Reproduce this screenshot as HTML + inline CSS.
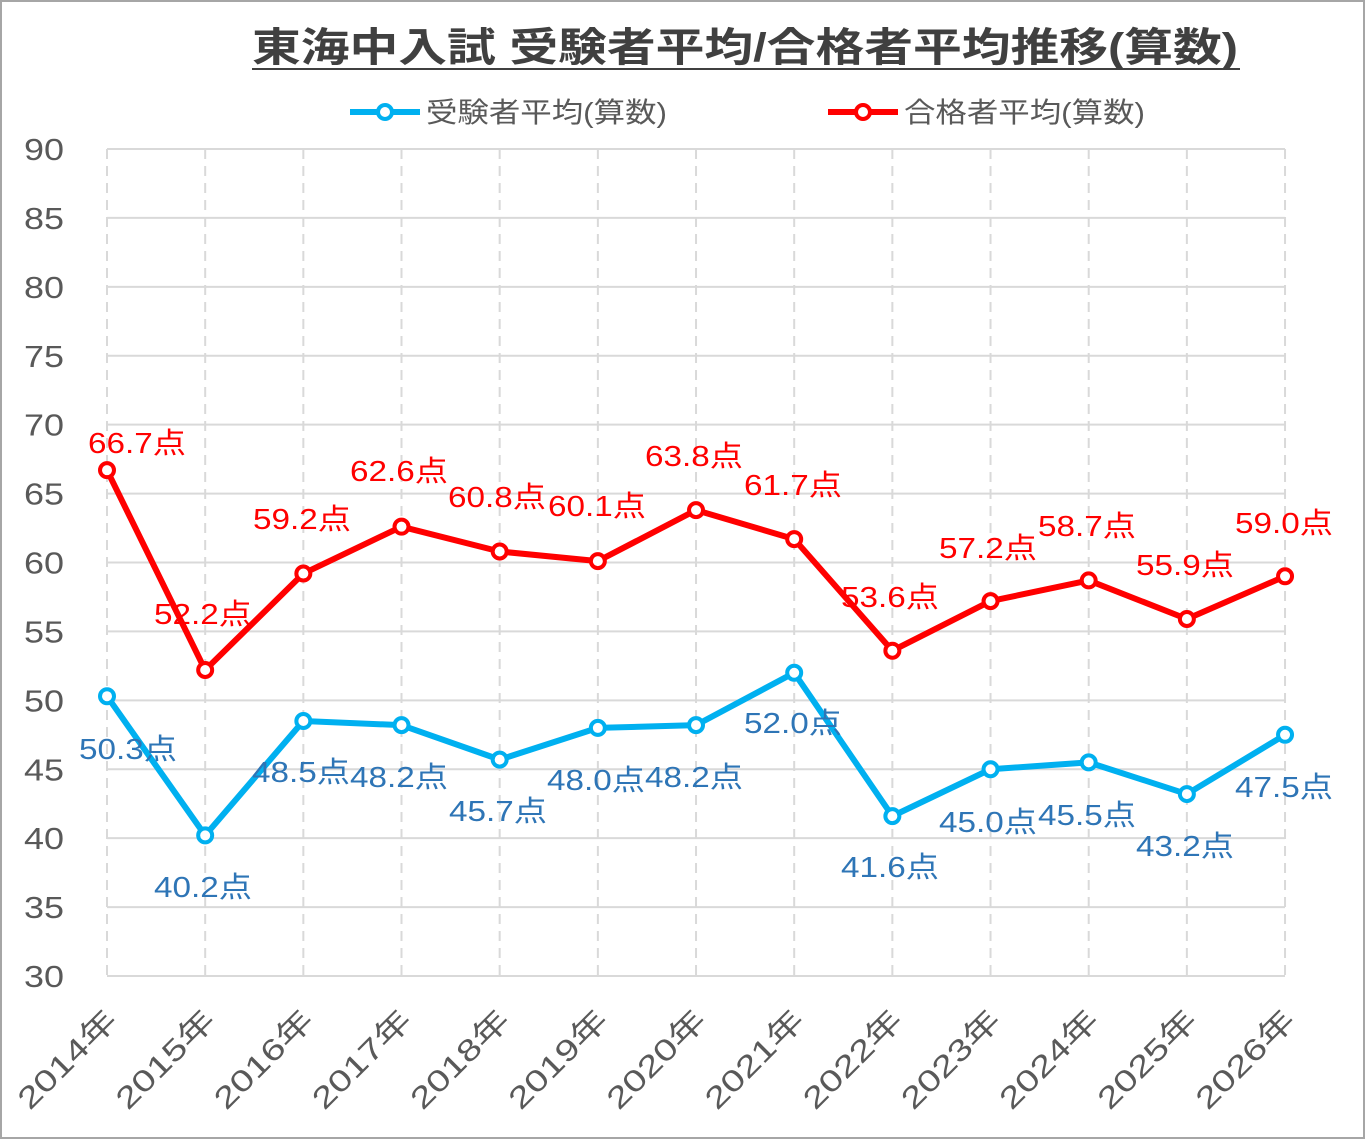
<!DOCTYPE html>
<html><head><meta charset="utf-8"><style>
html,body{margin:0;padding:0;background:#fff}
svg{display:block;font-family:"Liberation Sans","Noto Sans CJK JP",sans-serif}
</style></head><body>
<svg width="1365" height="1139" viewBox="0 0 1365 1139" xmlns="http://www.w3.org/2000/svg">
<rect x="1" y="1" width="1363" height="1137" fill="#fff" stroke="#a6a6a6" stroke-width="2"/>
<text x="252" y="61" font-size="40" font-weight="bold" fill="#404040" textLength="986" lengthAdjust="spacingAndGlyphs">東海中入試 受験者平均/合格者平均推移(算数)</text>
<line x1="252" y1="69" x2="1240" y2="69" stroke="#404040" stroke-width="2"/>
<g font-size="28" fill="#595959">
<line x1="350" y1="112" x2="420" y2="112" stroke="#00B0F0" stroke-width="6"/>
<circle cx="385" cy="112" r="7" fill="#fff" stroke="#00B0F0" stroke-width="4"/>
<text x="426" y="122" textLength="241" lengthAdjust="spacingAndGlyphs">受験者平均(算数)</text>
<line x1="828" y1="112" x2="898" y2="112" stroke="#FF0000" stroke-width="6"/>
<circle cx="863" cy="112" r="7" fill="#fff" stroke="#FF0000" stroke-width="4"/>
<text x="904" y="122" textLength="241" lengthAdjust="spacingAndGlyphs">合格者平均(算数)</text>
</g>
<g id="grid" stroke="#d9d9d9" stroke-width="2"></g>
<g id="ylab" font-size="31" fill="#595959" text-anchor="end"></g>
<g id="xlab" font-size="30" fill="#595959" text-anchor="end"></g>
<g id="series"></g>
<g id="labels" font-size="29"></g>
</svg>
<script>
const NS="http://www.w3.org/2000/svg";
function el(p,t,a,txt){const e=document.createElementNS(NS,t);for(const k in a)e.setAttribute(k,a[k]);if(txt!==undefined)e.textContent=txt;p.appendChild(e);return e;}
const X=i=>107+i*98.17, Y=v=>976-(v-30)*13.783;
const g=document.getElementById('grid'),yl=document.getElementById('ylab'),xl=document.getElementById('xlab');
for(let v=30;v<=90;v+=5){el(g,'line',{x1:107,x2:1285,y1:Y(v),y2:Y(v)});el(yl,'text',{x:64,y:Y(v)+11,textLength:40,lengthAdjust:'spacingAndGlyphs'},v);}
for(let i=0;i<13;i++){el(g,'line',{x1:X(i),x2:X(i),y1:149,y2:976,'stroke-dasharray':'10,7'});
 const x=X(i)+12,y=1022;el(xl,'text',{x:x,y:y,transform:`rotate(-45 ${x} ${y})`,textLength:126,lengthAdjust:'spacingAndGlyphs'},(2014+i)+'年');}
const red=[66.7,52.2,59.2,62.6,60.8,60.1,63.8,61.7,53.6,57.2,58.7,55.9,59.0];
const blue=[50.3,40.2,48.5,48.2,45.7,48.0,48.2,52.0,41.6,45.0,45.5,43.2,47.5];
const s=document.getElementById('series');
[[red,'#FF0000'],[blue,'#00B0F0']].forEach(([d,c])=>{
 el(s,'polyline',{points:d.map((v,i)=>X(i)+','+Y(v)).join(' '),fill:'none',stroke:c,'stroke-width':6,'stroke-linejoin':'round'});
 d.forEach((v,i)=>el(s,'circle',{cx:X(i),cy:Y(v),r:7,fill:'#fff',stroke:c,'stroke-width':4}));});
const rp=[[137,443],[203,614],[302,519],[399,471],[497,497],[597,506],[694,456],[793,485],[890,597],[988,548],[1087,526],[1185,565],[1284,523]];
const bp=[[128,749],[203,887],[301,772],[399,777],[498,811],[596,780],[694,777],[793,723],[890,867],[988,822],[1087,815],[1185,846],[1284,787]];
const L=document.getElementById('labels');
red.forEach((v,i)=>el(L,'text',{x:rp[i][0]-49,y:rp[i][1]+10,fill:'#FF0000',textLength:98,lengthAdjust:'spacingAndGlyphs'},v.toFixed(1)+'点'));
blue.forEach((v,i)=>el(L,'text',{x:bp[i][0]-49,y:bp[i][1]+10,fill:'#2E75B6',textLength:98,lengthAdjust:'spacingAndGlyphs'},v.toFixed(1)+'点'));
</script>
</body></html>
